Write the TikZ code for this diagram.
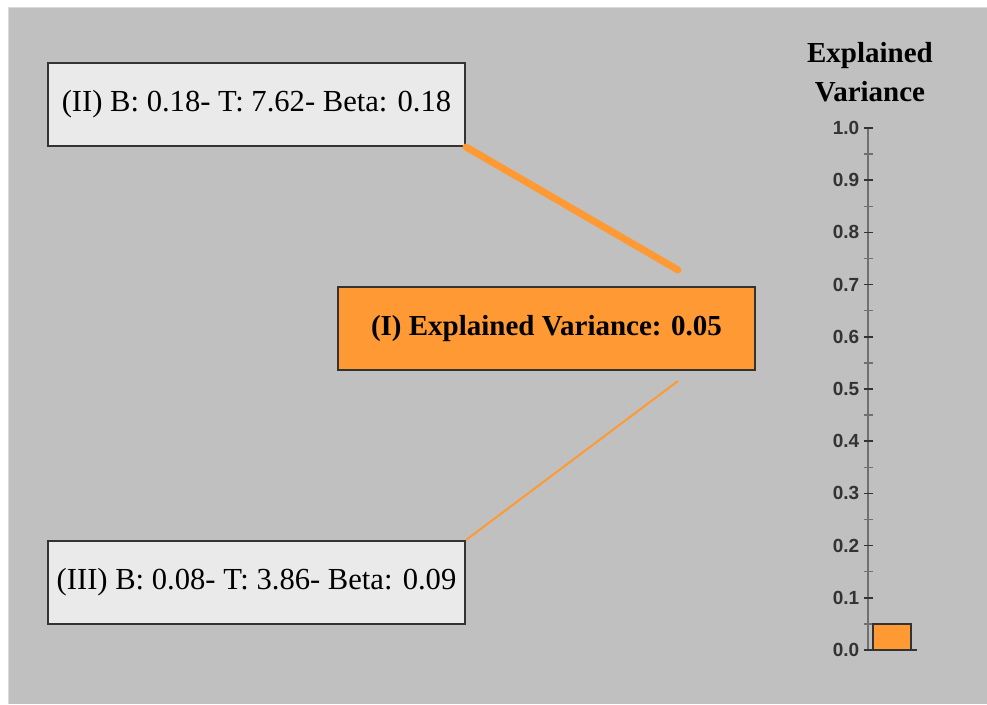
\documentclass[tikz,border=0pt]{standalone}
\usepackage{fontspec}
\setmainfont{Liberation Serif}
\newfontfamily\axisfont{Liberation Sans}
\usetikzlibrary{calc}
\definecolor{panelgray}{HTML}{C0C0C0}
\definecolor{boxgray}{HTML}{EAEAEA}
\definecolor{edgegray}{HTML}{333333}
\definecolor{axisgray}{HTML}{707070}
\definecolor{varorange}{HTML}{FF9933}
\tikzset{
  coefbox/.style={draw=edgegray, line width=2pt, fill=boxgray, minimum width=417pt, minimum height=83pt, inner sep=0pt, font=\fontsize{30.6}{36}\selectfont},
  varbox/.style={coefbox, fill=varorange, font=\fontsize{29}{34}\selectfont\bfseries},
  ticklabel/.style={anchor=east, inner sep=0pt, text=edgegray, font=\axisfont\fontsize{19}{21}\selectfont\bfseries}
}

\begin{document}
\begin{tikzpicture}[x=1pt,y=-1pt]
      \useasboundingbox (0,0) rectangle (987,704);
      \fill[white] (0,0) rectangle (987,704);
      \fill[panelgray] (8,7) rectangle (987,704);
      \draw[gray!30, line width=1pt] (8,704) -- (8,7) -- (987,7);
      \node[coefbox] (coefII) at (256.5,104.5) {(II) B: 0.18- T: 7.62- Beta: 0.18};
      \node[varbox] (varI) at (546.5,328.5) {(I) Explained Variance: 0.05};
      \node[coefbox] (coefIII) at (256.5,582.5) {(III) B: 0.08- T: 3.86- Beta: 0.09};
      \coordinate (endII) at ($(varI.north)+(131.5,-16)$);
      \coordinate (endIII) at ($(varI.south)+(131.5,10)$);
      \draw[varorange, line width=7pt, line cap=round] (coefII.south east) -- (endII);
      \draw[varorange, line width=2pt] (coefIII.north east) -- (endIII);
      \node[align=center, font=\fontsize{29}{39}\selectfont\bfseries] (axistitle) at (870,72) {Explained\\Variance};
      \draw[axisgray, line width=1.5pt] (868,128) -- (868,650);
      \foreach \lab [count=\i from 0] in {0.0,0.1,0.2,0.3,0.4,0.5,0.6,0.7,0.8,0.9,1.0}
        \draw[edgegray, line width=1.5pt] (864,650-52.2*\i) -- (873,650-52.2*\i) node[ticklabel] at (860,650-52.2*\i) {\lab};
      \foreach \i in {0,...,9}
        \draw[axisgray, line width=1.5pt] (864,650-52.2*\i-26.1) -- (873,650-52.2*\i-26.1);
      \draw[edgegray, line width=2pt] (864,650) -- (917,650);
      \draw[edgegray, line width=1.5pt, fill=varorange] (873,650) rectangle (911,623.9);
    \end{tikzpicture}
\end{document}
